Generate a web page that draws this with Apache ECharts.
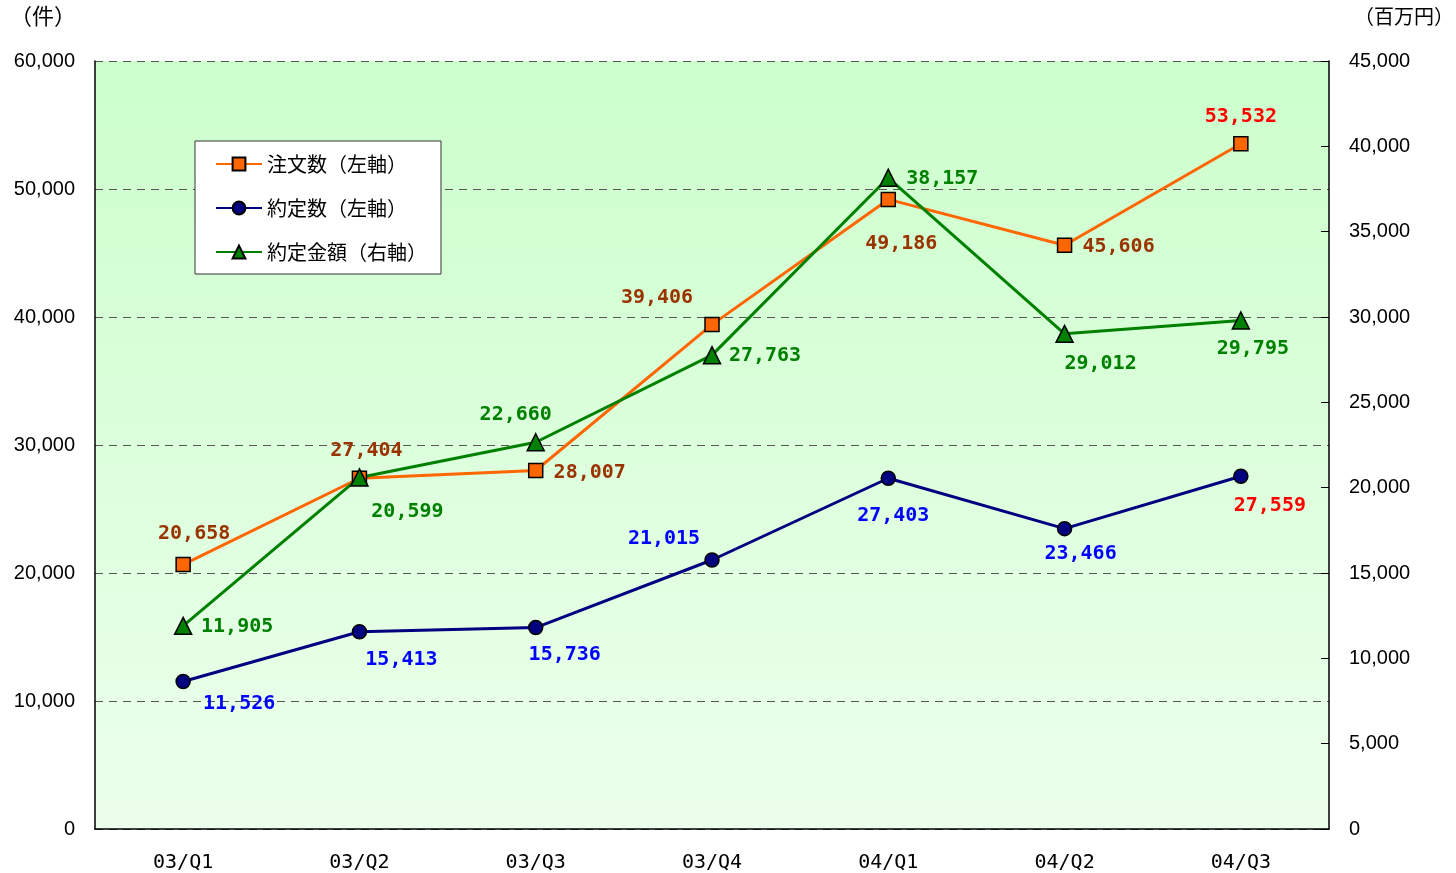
<!DOCTYPE html>
<html>
<head>
<meta charset="utf-8">
<script src="https://cdn.jsdelivr.net/npm/echarts@6/dist/echarts.min.js"></script>
<style>
  html, body { margin: 0; padding: 0; background: #fff; }
  #main { width: 1456px; height: 873px; }
</style>
</head>
<body>
<div id="main"></div>
<script>
// 四半期
const categories = ['03/Q1', '03/Q2', '03/Q3', '03/Q4', '04/Q1', '04/Q2', '04/Q3'];
// 注文数（左軸）
const orders = [20658, 27404, 28007, 39406, 49186, 45606, 53532];
// 約定数（左軸）
const contracts = [11526, 15413, 15736, 21015, 27403, 23466, 27559];
// 約定金額（右軸, 百万円）
const amounts = [11905, 20599, 22660, 27763, 38157, 29012, 29795];
const leftTicks = [0, 10000, 20000, 30000, 40000, 50000, 60000];
const rightTicks = [0, 5000, 10000, 15000, 20000, 25000, 30000, 35000, 40000, 45000];

// ラベル位置 [dx, dy]
const orderOffsets = [[11, -31], [7, -27], [54, 2], [-55, -27], [13, 44], [54, 2], [0, -27]];
const contractOffsets = [[56, 22], [42, 28], [29, 27], [-48, -21], [5, 38], [16, 25], [29, 30]];
const amountOffsets = [[54, 1], [48, 34], [-20, -27], [53, 1], [54, 1], [36, 30], [12, 28]];

const fmt = v => v.toLocaleString('en-US');
const labelFont = { fontFamily: 'DejaVu Sans Mono', fontWeight: 'bold', fontSize: 20 };

function buildData(values, offsets, color, lastColor) {
  return values.map((v, i) => ({
    value: v,
    label: {
      show: true,
      position: 'inside',
      offset: offsets[i],
      formatter: fmt(v),
      color: i === values.length - 1 ? lastColor : color,
      ...labelFont
    }
  }));
}

const chart = echarts.init(document.getElementById('main'));
const axisText = { color: '#000', fontSize: 20, fontFamily: 'Liberation Sans' };

chart.setOption({
  animation: false,
  grid: {
    left: 95, right: 127, top: 61, bottom: 44,
    show: true,
    borderWidth: 0,
    backgroundColor: new echarts.graphic.LinearGradient(0, 0, 0, 1, [
      { offset: 0, color: '#ccffcc' },
      { offset: 1, color: '#ecffec' }
    ])
  },
  legend: {
    orient: 'vertical',
    left: 195, top: 141,
    backgroundColor: '#fff',
    borderColor: '#333',
    borderWidth: 1,
    padding: [13, 14, 12, 20],
    itemWidth: 46, itemHeight: 16,
    itemGap: 24,
    textStyle: { fontSize: 20, lineHeight: 20, color: '#000', fontFamily: 'Noto Sans CJK JP' },
    data: ['注文数（左軸）', '約定数（左軸）', '約定金額（右軸）']
  },
  graphic: [
    { type: 'text', left: 10, top: 5, style: { text: '（件）', fontSize: 22, fill: '#000', fontFamily: 'Noto Sans CJK JP' } },
    { type: 'text', right: 2, top: 6, style: { text: '（百万円）', fontSize: 20, fill: '#000', fontFamily: 'Noto Sans CJK JP' } }
  ],
  xAxis: {
    type: 'category',
    data: categories,
    boundaryGap: true,
    axisLine: { lineStyle: { color: '#000', width: 1.5 } },
    axisTick: { inside: true, length: 7, lineStyle: { color: '#000' } },
    axisLabel: { margin: 24, color: '#000', fontSize: 20, fontFamily: 'DejaVu Sans Mono' }
  },
  yAxis: [
    {
      type: 'value', min: leftTicks[0], max: leftTicks[leftTicks.length - 1], interval: 10000,
      axisLine: { show: true, lineStyle: { color: '#000', width: 1.5 } },
      axisTick: { show: false },
      axisLabel: { formatter: fmt, margin: 20, ...axisText },
      splitLine: { show: true, lineStyle: { color: '#555', type: [8, 6], width: 1 } }
    },
    {
      type: 'value', min: rightTicks[0], max: rightTicks[rightTicks.length - 1], interval: 5000,
      position: 'right',
      axisLine: { show: true, lineStyle: { color: '#000', width: 1.5 } },
      axisTick: { show: true, inside: true, length: 8, lineStyle: { color: '#000' } },
      axisLabel: { formatter: fmt, margin: 20, ...axisText },
      splitLine: { show: false }
    }
  ],
  series: [
    {
      name: '注文数（左軸）', type: 'line', yAxisIndex: 0,
      data: buildData(orders, orderOffsets, '#993300', '#ff0000'),
      symbol: 'rect', symbolSize: 14,
      lineStyle: { color: '#ff6600', width: 3 },
      itemStyle: { color: '#ff6600', borderColor: '#000', borderWidth: 1.5 },
      z: 3
    },
    {
      name: '約定数（左軸）', type: 'line', yAxisIndex: 0,
      data: buildData(contracts, contractOffsets, '#0000ff', '#ff0000'),
      symbol: 'circle', symbolSize: 14,
      lineStyle: { color: '#000080', width: 3 },
      itemStyle: { color: '#000080', borderColor: '#000', borderWidth: 1.5 },
      z: 3
    },
    {
      name: '約定金額（右軸）', type: 'line', yAxisIndex: 1,
      data: buildData(amounts, amountOffsets, '#008000', '#008000'),
      symbol: 'triangle', symbolSize: 17,
      lineStyle: { color: '#008000', width: 3 },
      itemStyle: { color: '#008000', borderColor: '#000', borderWidth: 1.5 },
      z: 3
    }
  ]
});
</script>
</body>
</html>
